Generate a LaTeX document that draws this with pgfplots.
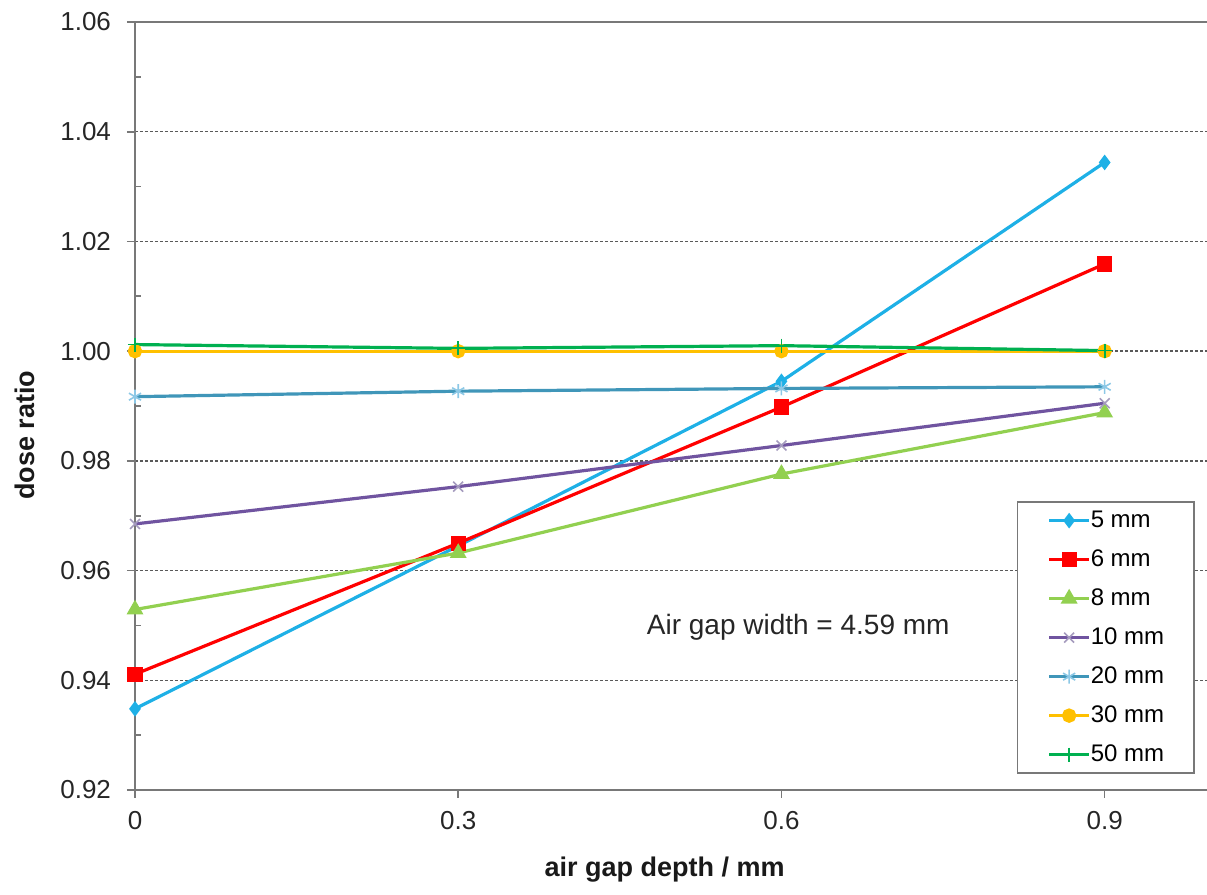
\documentclass[border=0pt]{standalone}
\usepackage{pgfplots}
\pgfplotsset{compat=1.18}
\usepackage{fontspec}
\setmainfont{Liberation Sans}
\definecolor{c5}{RGB}{30,176,230}
\definecolor{c6}{RGB}{255,0,0}
\definecolor{c8}{RGB}{146,208,80}
\definecolor{c10}{RGB}{112,84,160}
\definecolor{c10m}{RGB}{165,155,190}
\definecolor{c20}{RGB}{64,150,185}
\definecolor{c20m}{RGB}{140,200,230}
\definecolor{c30}{RGB}{255,192,0}
\definecolor{c50}{RGB}{0,176,80}
\definecolor{axgray}{RGB}{120,120,120}
\begin{document}
\begin{tikzpicture}
\begin{axis}[
  scale only axis,
  width=536pt, height=384pt,
  xmin=0, xmax=0.995, ymin=0.92, ymax=1.06,
  axis x line*=bottom, axis y line*=left,
  axis line style={-, draw=axgray, line width=0.9pt},
  xtick={0,0.3,0.6,0.9}, xticklabels={0,0.3,0.6,0.9},
  ytick={0.92,0.94,0.96,0.98,1.00,1.02,1.04,1.06},
  yticklabels={0.92,0.94,0.96,0.98,1.00,1.02,1.04,1.06},
  minor y tick num=1,
  tick align=outside,
  major tick length=4pt, minor tick length=3pt,
  every tick/.style={draw=axgray, line width=0.8pt},
  minor y tick style={xshift=3pt},
  ymajorgrids,
  y grid style={dash pattern=on 1.5pt off 1pt, draw=black!65, line width=0.7pt},
  tick label style={font=\fontsize{13}{15}\selectfont, text=black!85},
  yticklabel style={xshift=-4.5pt},
  xticklabel style={yshift=-3pt},
  xlabel={\textbf{air gap depth / mm}},
  ylabel={\textbf{dose ratio}},
  label style={font=\fontsize{13.5}{16}\selectfont, text=black!90},
  xlabel style={at={(axis description cs:0.494,0)}, anchor=center, yshift=-40pt},
  ylabel style={at={(axis description cs:-0.1026,0.462)}, anchor=center},
  legend cell align=left,
  legend image code/.code={\draw[mark repeat=2,mark phase=2,#1] plot coordinates {(0pt,0pt) (10pt,0pt) (20pt,0pt)};},
  legend style={at={(axis description cs:0.9888,0.0208)}, anchor=south east,
    draw=axgray, line width=0.9pt, fill=white,
    font=\fontsize{12}{14}\selectfont,
    inner xsep=15pt, inner ysep=3.5pt, row sep=8pt,
    nodes={inner sep=0pt, text height=9pt, text depth=2.5pt}},
  every axis plot/.append style={line width=1.6pt},
]
\draw[draw=axgray, line width=0.9pt] (rel axis cs:0,1) -- (rel axis cs:1,1);
\addplot[c5, mark=diamond*, mark size=2.6pt, mark options={fill=c5, solid}] coordinates {(0,0.9348) (0.3,0.9645) (0.6,0.9945) (0.9,1.0344)};
\addlegendentry{5 mm}
\addplot[c6, mark=square*, mark size=3pt, mark options={fill=c6, solid}] coordinates {(0,0.9411) (0.3,0.9650) (0.6,0.9898) (0.9,1.0159)};
\addlegendentry{6 mm}
\addplot[c8, mark=triangle*, mark size=3.3pt, mark options={fill=c8, solid}] coordinates {(0,0.9529) (0.3,0.9632) (0.6,0.9776) (0.9,0.9888)};
\addlegendentry{8 mm}
\addplot[c10, mark=x, mark size=3.5pt, mark options={draw=c10m, line width=0.8pt}] coordinates {(0,0.9685) (0.3,0.9753) (0.6,0.9828) (0.9,0.9905)};
\addlegendentry{10 mm}
\addplot[c20, mark=asterisk, mark size=3.5pt, mark options={draw=c20m, line width=0.8pt}] coordinates {(0,0.9917) (0.3,0.9927) (0.6,0.9932) (0.9,0.9935)};
\addlegendentry{20 mm}
\addplot[c30, mark=*, mark size=2.8pt, mark options={fill=c30, solid}] coordinates {(0,1.0000) (0.3,1.0000) (0.6,1.0000) (0.9,1.0000)};
\addlegendentry{30 mm}
\addplot[c50, mark=+, mark size=3.5pt, mark options={line width=0.9pt}] coordinates {(0,1.0012) (0.3,1.0005) (0.6,1.0010) (0.9,1.0001)};
\addlegendentry{50 mm}
\node[font=\fontsize{14}{16}\selectfont, text=black!85, anchor=center] at (axis cs:0.6156,0.9497) {Air gap width = 4.59 mm};
\end{axis}
\pgfresetboundingbox
\path[use as bounding box] (-67.5pt,-52.5pt) rectangle (536pt,395pt);
\end{tikzpicture}
\end{document}
